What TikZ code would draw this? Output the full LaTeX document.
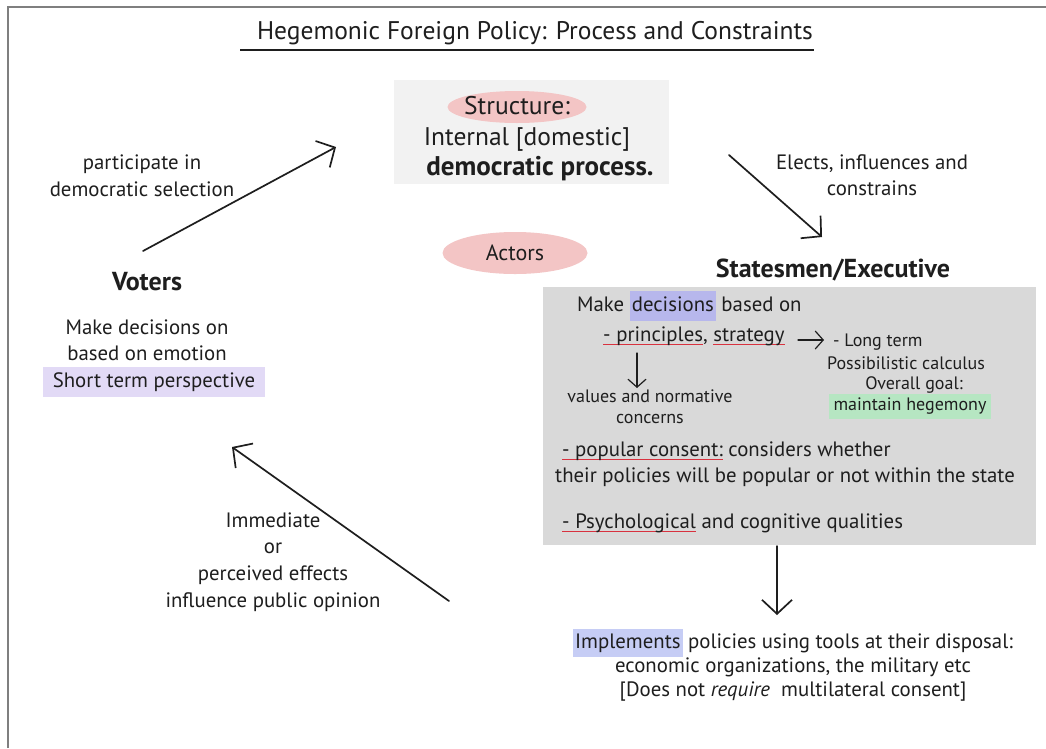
\documentclass[tikz,border=0pt]{standalone}
\usepackage{fontspec}
\setmainfont{PT Sans}
\usetikzlibrary{arrows.meta,shapes.geometric}

\definecolor{ink}{HTML}{1E1E1E}
\definecolor{framegray}{HTML}{7F7F7F}
\definecolor{lightbox}{HTML}{F2F2F2}
\definecolor{greybox}{HTML}{D9D9D9}
\definecolor{pinkfill}{HTML}{F3C5C5}
\definecolor{lavender}{HTML}{E2DAF6}
\definecolor{hlblue}{HTML}{B7B7EC}
\definecolor{hlblue2}{HTML}{C6CDF5}
\definecolor{hlgreen}{HTML}{B6E6C2}
\definecolor{ulred}{HTML}{D8323F}

% highlighted word
\newcommand\hl[2]{{\fboxsep=2pt\colorbox{#1}{\strut #2}}}
% red underline below a word
\newcommand\rul[1]{\setbox0=\hbox{#1}\leavevmode\rlap{\color{ulred}\rule[-4pt]{\wd0}{1.3pt}}\box0\relax}

\begin{document}
\begin{tikzpicture}[x=1pt,y=-1pt,
  txt/.style={font=\fontsize{20.8}{26}\selectfont, text=ink, inner sep=0pt, align=center},
  smalltxt/.style={font=\fontsize{18}{21}\selectfont, text=ink, inner sep=0pt, align=center},
  bigtxt/.style={font=\fontsize{25.5}{30}\selectfont, text=ink, inner sep=0pt, align=center},
  boldlbl/.style={font=\fontsize{26}{30}\selectfont\bfseries, text=ink, inner sep=0pt},
  pinkoval/.style={ellipse, fill=pinkfill, inner sep=0pt},
  bigarrow/.style={draw=ink, line width=1.7pt, line cap=round,
    -{Straight Barb[length=14pt,width=30pt,line width=1.7pt]}},
  smallarrow/.style={draw=ink, line width=1.2pt, line cap=round,
    -{Straight Barb[length=8pt,width=18pt,line width=1.2pt]}}]

\useasboundingbox (0,0) rectangle (1046,748);
\fill[white] (0,0) rectangle (1046,748);
\draw[framegray, line width=2pt] (8,748) -- (8,7) -- (1046,7);

% title
\node[font=\fontsize{25.5}{30}\selectfont, text=ink, inner sep=0pt] (title) at (535,33)
  {Hegemonic Foreign Policy: Process and Constraints};
\draw[ink, line width=1.4pt] (240,50) -- (814,50);

% structure block
\node[fill=lightbox, minimum width=275, minimum height=104, inner sep=0pt] (structbox) at (531,132) {};
\node[pinkoval, minimum width=139, minimum height=32] (structoval) at (517,107) {};
\node[bigtxt] (structlbl) at (517,106) {Structure:};
\node[bigtxt] (internal) at (527,139) {Internal [domestic]};
\node[bigtxt, font=\fontsize{27}{30}\selectfont\bfseries] (democ) at (540,169) {democratic process.};

% actors
\node[pinkoval, minimum width=145, minimum height=42] (actorsoval) at (515,253) {};
\node[bigtxt, font=\fontsize{22}{26}\selectfont] (actors) at (515,253) {Actors};

% voters side
\node[boldlbl] (voters) at (147,282) {Voters};
\node[txt] (votdec) at (147,340) {Make decisions on\\based on emotion};
\node[txt] (shortterm) at (154,382) {\hl{lavender}{\hspace{8pt}Short term perspective\hspace{8pt}}};
\node[txt, font=\fontsize{20.8}{27}\selectfont] (partic) at (142,176) {participate in\\democratic selection};

% statesmen side
\node[boldlbl] (states) at (833,270) {Statesmen/Executive};
\node[txt] (elects) at (872,175) {Elects, influences and\\constrains};

% executive details
\node[fill=greybox, minimum width=493, minimum height=258, inner sep=0pt] (execbox) at (789.5,416) {};
\node[txt, anchor=west] (mkdec) at (577,306) {Make \hl{hlblue}{decisions} based on};
\node[txt, anchor=west] (princ) at (603,336) {\rul{- principles}, \rul{strategy}};
\node[smalltxt, anchor=west] (longterm) at (833,342) {- Long term};
\node[smalltxt] (possib) at (906,363) {Possibilistic calculus};
\node[smalltxt] (goal) at (914,385) {Overall goal:};
\node[smalltxt] (hegem) at (910,406) {\hl{hlgreen}{\hspace{3pt}maintain hegemony\hspace{3pt}}};
\node[smalltxt] (values) at (650,407) {values and normative\\concerns};
\node[txt, anchor=west, align=left] (popular) at (555,464)
  {\hspace{7pt}\rul{- popular consent:} considers whether\\their policies will be popular or not within the state};
\node[txt, anchor=west] (psych) at (562,523) {\rul{- Psychological} and cognitive qualities};

% implementation
\node[txt, font=\fontsize{20.8}{24}\selectfont] (implem) at (793,665)
  {\hl{hlblue2}{Implements} policies using tools at their disposal:\\
   economic organizations, the military etc\\
   {[}Does not \textit{require}\ \ multilateral consent{]}};

% immediate effects
\node[txt, font=\fontsize{20.8}{26.7}\selectfont] (effects) at (273,562)
  {Immediate\\or\\perceived effects\\influence public opinion};

% connector end points
\coordinate (vstart) at (143,251);
\coordinate (vend) at (336,147);
\coordinate (sstart) at (729,155);
\coordinate (send) at (822,237);
\coordinate (estart) at (449,601);
\coordinate (eend) at (232,447);
\coordinate (dstart) at (777,546);
\coordinate (dend) at (777,615);
\coordinate (pdown) at (637,353);
\coordinate (pdownend) at (637,388);
\coordinate (pright) at (798,340);
\coordinate (prightend) at (824,340);

\draw[bigarrow] (vstart) -- (vend);
\draw[bigarrow] (sstart) -- (send);
\draw[bigarrow] (estart) -- (eend);
\draw[bigarrow, line width=1.4pt] (dstart) -- (dend);
\draw[smallarrow] (pdown) -- (pdownend);
\draw[smallarrow] (pright) -- (prightend);
\end{tikzpicture}
\end{document}
